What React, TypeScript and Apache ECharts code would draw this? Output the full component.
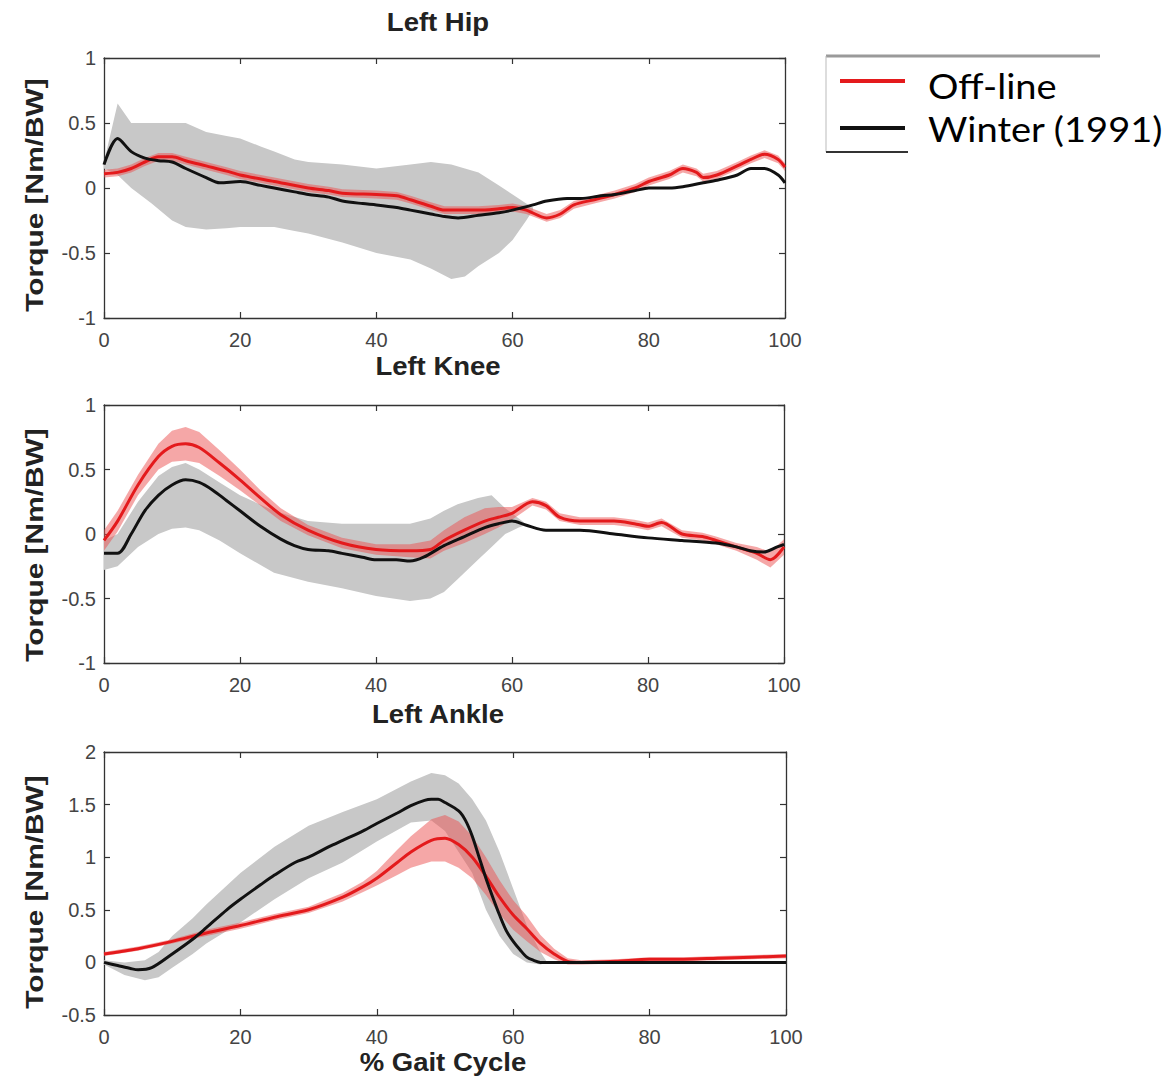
import React, { useEffect, useRef } from "react";
import * as echarts from "echarts";

const panelTitles = ["Left Hip", "Left Knee", "Left Ankle"];
const yAxisTitle = "Torque [Nm/BW]";
const xAxisTitle = "% Gait Cycle";
const legendNames = ["Off-line", "Winter (1991)"];
const xTicks = [0, 20, 40, 60, 80, 100];
const yRanges = [
  [-1, 1, 0.5],
  [-1, 1, 0.5],
  [-0.5, 2, 0.5],
];

// ---- Left Hip ----
const hipWinter = [
  [0, 0.18], [2, 0.38], [4, 0.28], [6, 0.23], [8, 0.21], [10, 0.2], [12, 0.15], [15, 0.08], [17, 0.04], [20, 0.05],
  [23, 0.02], [25, 0.0], [28, -0.03], [30, -0.05], [33, -0.07], [35, -0.1], [38, -0.12], [40, -0.13], [43, -0.15], [45, -0.17],
  [48, -0.2], [50, -0.22], [52, -0.23], [55, -0.21], [58, -0.19], [60, -0.17], [63, -0.13], [65, -0.1], [68, -0.08], [70, -0.08],
  [73, -0.06], [75, -0.05], [78, -0.02], [80, 0.0], [83, 0.0], [85, 0.01], [88, 0.04], [90, 0.06], [93, 0.1], [95, 0.15],
  [97, 0.15], [99, 0.1], [100, 0.04],
];
// [x, mean, sd]
const hipOffline = [
  [0, 0.11, 0.03], [2, 0.12, 0.03], [4, 0.15, 0.03], [6, 0.2, 0.03], [8, 0.24, 0.03], [10, 0.24, 0.03], [12, 0.21, 0.03],
  [15, 0.17, 0.03], [18, 0.13, 0.03], [20, 0.1, 0.03], [25, 0.05, 0.03], [30, 0.0, 0.03], [33, -0.02, 0.03], [35, -0.04, 0.03],
  [40, -0.05, 0.03], [43, -0.06, 0.03], [45, -0.09, 0.03], [48, -0.14, 0.03], [50, -0.17, 0.03], [55, -0.17, 0.03],
  [58, -0.16, 0.03], [60, -0.15, 0.03], [62, -0.17, 0.03], [65, -0.23, 0.03], [67, -0.2, 0.03], [69, -0.13, 0.03],
  [72, -0.09, 0.03], [75, -0.05, 0.03], [78, 0.0, 0.03], [80, 0.05, 0.03], [83, 0.1, 0.03], [85, 0.15, 0.03],
  [87, 0.12, 0.03], [88, 0.08, 0.03], [90, 0.1, 0.03], [93, 0.17, 0.03], [95, 0.22, 0.03], [97, 0.26, 0.03],
  [99, 0.22, 0.03], [100, 0.16, 0.03],
];
// [x, low, high]
const hipWinterBand = [
  [0, 0.15, 0.2], [2, 0.1, 0.65], [4, 0.0, 0.5], [7, -0.12, 0.5], [10, -0.25, 0.5], [12, -0.3, 0.5], [15, -0.32, 0.43],
  [18, -0.31, 0.4], [20, -0.3, 0.38], [23, -0.3, 0.32], [25, -0.3, 0.28], [28, -0.33, 0.22], [30, -0.35, 0.2],
  [35, -0.42, 0.18], [40, -0.5, 0.15], [45, -0.55, 0.18], [48, -0.62, 0.2], [51, -0.7, 0.18], [53, -0.68, 0.15],
  [55, -0.6, 0.12], [58, -0.5, 0.02], [60, -0.4, -0.05], [62, -0.25, -0.12], [63, -0.17, -0.15],
];

// ---- Left Knee ----
const kneeWinter = [
  [0, -0.15], [2, -0.15], [4, 0.0], [6, 0.18], [8, 0.3], [10, 0.38], [12, 0.42], [14, 0.4], [16, 0.34], [18, 0.26],
  [20, 0.18], [23, 0.06], [26, -0.04], [28, -0.09], [30, -0.12], [33, -0.13], [35, -0.15], [38, -0.18], [40, -0.2],
  [43, -0.2], [45, -0.21], [47, -0.18], [50, -0.09], [53, -0.02], [56, 0.05], [58, 0.08], [60, 0.1], [62, 0.07],
  [65, 0.03], [70, 0.03], [75, 0.0], [80, -0.03], [85, -0.05], [90, -0.07], [93, -0.1], [95, -0.13], [97, -0.14],
  [99, -0.1], [100, -0.08],
];
const kneeOffline = [
  [0, -0.05, 0.08], [2, 0.1, 0.08], [5, 0.38, 0.08], [8, 0.6, 0.1], [10, 0.68, 0.12], [12, 0.7, 0.13], [14, 0.67, 0.12],
  [17, 0.55, 0.1], [20, 0.42, 0.08], [23, 0.28, 0.06], [26, 0.15, 0.05], [30, 0.03, 0.04], [35, -0.07, 0.04],
  [40, -0.12, 0.04], [45, -0.13, 0.05], [48, -0.12, 0.07], [50, -0.05, 0.08], [53, 0.03, 0.1], [56, 0.1, 0.1],
  [58, 0.13, 0.08], [60, 0.16, 0.05], [63, 0.25, 0.03], [65, 0.22, 0.03], [67, 0.13, 0.03], [70, 0.1, 0.03],
  [75, 0.1, 0.03], [78, 0.08, 0.03], [80, 0.06, 0.03], [82, 0.09, 0.03], [85, 0.0, 0.03], [88, -0.02, 0.03],
  [90, -0.05, 0.03], [93, -0.1, 0.03], [96, -0.15, 0.05], [98, -0.2, 0.06], [100, -0.1, 0.06],
];
const kneeWinterBand = [
  [0, -0.28, -0.05], [2, -0.25, 0.0], [5, -0.1, 0.25], [8, 0.0, 0.45], [10, 0.04, 0.52], [12, 0.05, 0.55],
  [14, 0.03, 0.5], [17, -0.05, 0.4], [20, -0.15, 0.3], [25, -0.3, 0.18], [30, -0.37, 0.1], [35, -0.42, 0.08],
  [40, -0.48, 0.08], [45, -0.52, 0.08], [48, -0.5, 0.12], [50, -0.45, 0.18], [52, -0.35, 0.23], [55, -0.2, 0.28],
  [57, -0.1, 0.3], [59, 0.0, 0.2], [61, 0.05, 0.12], [62, 0.07, 0.08],
];

// ---- Left Ankle ----
const ankleWinter = [
  [0, 0.0], [2, -0.03], [4, -0.06], [5, -0.07], [7, -0.05], [10, 0.08], [13, 0.22], [15, 0.33], [18, 0.5], [20, 0.6],
  [23, 0.74], [25, 0.83], [28, 0.95], [30, 1.0], [33, 1.1], [35, 1.16], [38, 1.25], [40, 1.32], [43, 1.42], [45, 1.49],
  [47, 1.54], [48, 1.55], [49, 1.55], [50, 1.52], [52, 1.44], [53, 1.35], [54, 1.2], [55, 1.0], [56, 0.8], [57, 0.62],
  [58, 0.45], [59, 0.3], [60, 0.2], [61, 0.12], [62, 0.05], [63, 0.02], [64, 0.0], [70, 0.0], [80, 0.0], [90, 0.0],
  [100, 0.0],
];
const ankleOffline = [
  [0, 0.08, 0.02], [5, 0.13, 0.02], [10, 0.2, 0.02], [15, 0.28, 0.03], [20, 0.35, 0.03], [25, 0.43, 0.03],
  [30, 0.5, 0.03], [35, 0.62, 0.04], [38, 0.72, 0.05], [40, 0.8, 0.07], [43, 0.95, 0.12], [45, 1.05, 0.15],
  [48, 1.16, 0.2], [50, 1.18, 0.22], [52, 1.12, 0.22], [54, 1.0, 0.2], [56, 0.82, 0.18], [58, 0.62, 0.16],
  [60, 0.45, 0.14], [62, 0.32, 0.12], [64, 0.18, 0.08], [66, 0.08, 0.05], [68, 0.01, 0.03], [70, 0.0, 0.02],
  [75, 0.01, 0.02], [80, 0.03, 0.02], [85, 0.03, 0.02], [90, 0.04, 0.02], [95, 0.05, 0.02], [100, 0.06, 0.02],
];
const ankleWinterBand = [
  [0, -0.02, 0.02], [3, -0.12, 0.0], [6, -0.17, 0.02], [8, -0.14, 0.1], [10, -0.05, 0.25], [13, 0.08, 0.42],
  [15, 0.18, 0.55], [20, 0.38, 0.85], [25, 0.6, 1.1], [30, 0.8, 1.3], [35, 0.95, 1.43], [40, 1.15, 1.55],
  [45, 1.33, 1.72], [48, 1.35, 1.8], [50, 1.25, 1.78], [52, 1.05, 1.7], [54, 0.85, 1.55], [56, 0.5, 1.35],
  [58, 0.25, 1.05], [60, 0.08, 0.7], [62, 0.0, 0.35], [64, -0.02, 0.1], [65, 0.0, 0.0],
];

const panels = [
  { winter: hipWinter, offline: hipOffline, band: hipWinterBand },
  { winter: kneeWinter, offline: kneeOffline, band: kneeWinterBand },
  { winter: ankleWinter, offline: ankleOffline, band: ankleWinterBand },
];

const grids = [
  { left: 104, top: 58, width: 681, height: 260 },
  { left: 104, top: 405, width: 680, height: 258 },
  { left: 104, top: 752, width: 682, height: 263 },
];

const RED = "#e41a1c";
const BLACK = "#111111";
const GRAY = "#c8c8c8";
const RED_BAND = "rgba(236, 80, 80, 0.5)";
const AXIS = "#333333";
const FONT = "Liberation Sans, Arial, sans-serif";

function bandSeries(data: number[][], color: string, idx: number) {
  return {
    type: "custom",
    xAxisIndex: idx * 2,
    yAxisIndex: idx * 2,
    silent: true,
    clip: true,
    data,
    encode: { x: 0, y: [1, 2] },
    renderItem: (params: any, api: any) => {
      if (params.dataIndex !== 0) return null;
      const top = data.map((d) => api.coord([d[0], d[2]]));
      const bot = data.map((d) => api.coord([d[0], d[1]])).reverse();
      return {
        type: "polygon",
        shape: { points: top.concat(bot) },
        style: { fill: color },
      };
    },
  };
}

export default function App() {
  const ref = useRef<HTMLDivElement>(null);
  useEffect(() => {
    if (!ref.current) return;
    const chart = echarts.init(ref.current, undefined, { renderer: "svg" });

    const xAxis: any[] = [];
    const yAxis: any[] = [];
    const series: any[] = [];
    const graphic: any[] = [];

    panels.forEach((p, i) => {
      const [ymin, ymax, yint] = yRanges[i];
      const common = {
        gridIndex: i,
        type: "value",
        splitLine: { show: false },
        axisLine: { show: true, onZero: false, lineStyle: { color: AXIS, width: 1.3 } },
        axisTick: { show: true, inside: true, length: 6, lineStyle: { color: AXIS, width: 1.2 } },
      };
      xAxis.push({
        ...common,
        position: "bottom",
        min: xTicks[0],
        max: xTicks[xTicks.length - 1],
        interval: 20,
        axisLabel: { show: true, color: "#444", fontSize: 20, fontFamily: FONT, margin: 12 },
      });
      xAxis.push({
        ...common,
        position: "top",
        min: xTicks[0],
        max: xTicks[xTicks.length - 1],
        interval: 20,
        axisLabel: { show: false },
      });
      yAxis.push({
        ...common,
        position: "left",
        min: ymin,
        max: ymax,
        interval: yint,
        axisLabel: { show: true, color: "#444", fontSize: 20, fontFamily: FONT, margin: 8 },
      });
      yAxis.push({
        ...common,
        position: "right",
        min: ymin,
        max: ymax,
        interval: yint,
        axisLabel: { show: false },
      });

      series.push(bandSeries(p.band, GRAY, i));
      series.push(
        bandSeries(
          p.offline.map((d) => [d[0], d[1] - d[2], d[1] + d[2]]),
          RED_BAND,
          i
        )
      );
      series.push({
        type: "line",
        name: legendNames[0],
        xAxisIndex: i * 2,
        yAxisIndex: i * 2,
        data: p.offline.map((d) => [d[0], d[1]]),
        showSymbol: false,
        smooth: 0.3,
        lineStyle: { color: RED, width: 3 },
        silent: true,
      });
      series.push({
        type: "line",
        name: legendNames[1],
        xAxisIndex: i * 2,
        yAxisIndex: i * 2,
        data: p.winter,
        showSymbol: false,
        smooth: 0.3,
        lineStyle: { color: BLACK, width: 3 },
        silent: true,
      });
    });

    const titleY = [22, 366, 714];
    panelTitles.forEach((t, i) => {
      graphic.push({
        type: "text",
        x: 438,
        y: titleY[i],
        scaleX: 1.1,
        style: {
          text: t,
          font: `bold 25px ${FONT}`,
          fill: "#222",
          textAlign: "center",
          textVerticalAlign: "middle",
        },
      });
    });
    graphic.push({
      type: "text",
      x: 443,
      y: 1062,
      scaleX: 1.1,
      style: {
        text: xAxisTitle,
        font: `bold 25px ${FONT}`,
        fill: "#222",
        textAlign: "center",
        textVerticalAlign: "middle",
      },
    });
    const yNameY = [195, 545, 892];
    yNameY.forEach((yy) => {
      graphic.push({
        type: "text",
        x: 35,
        y: yy,
        rotation: Math.PI / 2,
        scaleX: 1.3,
        style: {
          text: yAxisTitle,
          font: `bold 23px ${FONT}`,
          fill: "#222",
          textAlign: "center",
          textVerticalAlign: "middle",
        },
      });
    });

    // Legend box
    const legendFont = `34px Lato, "Noto Sans", sans-serif`;
    graphic.push(
      { type: "line", shape: { x1: 826, y1: 56, x2: 1100, y2: 56 }, style: { stroke: "#9a9a9a", lineWidth: 3 } },
      { type: "line", shape: { x1: 826, y1: 56, x2: 826, y2: 152 }, style: { stroke: "#bbbbbb", lineWidth: 1 } },
      { type: "line", shape: { x1: 826, y1: 152, x2: 908, y2: 152 }, style: { stroke: "#333", lineWidth: 2 } },
      { type: "line", shape: { x1: 840, y1: 81, x2: 905, y2: 81 }, style: { stroke: RED, lineWidth: 4 } },
      { type: "line", shape: { x1: 840, y1: 128, x2: 905, y2: 128 }, style: { stroke: BLACK, lineWidth: 4 } },
      {
        type: "text",
        x: 928,
        y: 86,
        scaleX: 1.12,
        style: { text: legendNames[0], font: legendFont, fill: "#000", textVerticalAlign: "middle" },
      },
      {
        type: "text",
        x: 928,
        y: 129,
        scaleX: 1.12,
        style: { text: legendNames[1], font: legendFont, fill: "#000", textVerticalAlign: "middle" },
      }
    );

    chart.setOption({
      animation: false,
      backgroundColor: "#ffffff",
      grid: grids.map((g) => ({ ...g, containLabel: false })),
      xAxis,
      yAxis,
      series,
      graphic,
    });
    return () => chart.dispose();
  }, []);

  return (
    <div
      ref={ref}
      style={{ position: "absolute", left: 0, top: 0, width: 1173, height: 1080, background: "#fff" }}
    />
  );
}
